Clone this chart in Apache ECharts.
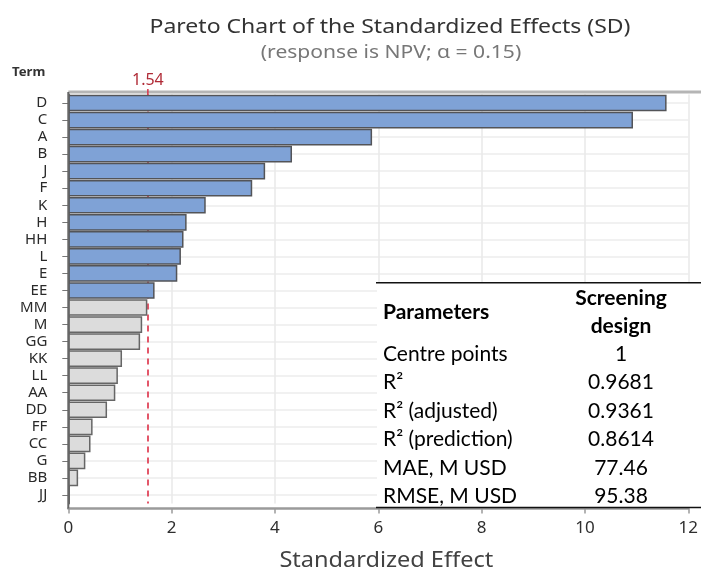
<!DOCTYPE html>
<html><head><meta charset="utf-8">
<script src="https://cdn.jsdelivr.net/npm/echarts@6/dist/echarts.min.js"></script>
<style>html,body{margin:0;padding:0;background:#fff}#chart{width:701px;height:572px}</style>
</head><body><div id="chart"></div>
<script>
// Terms ordered by absolute standardized effect
const terms = ['D','C','A','B','J','F','K','H','HH','L','E','EE','MM','M','GG','KK','LL','AA','DD','FF','CC','G','BB','JJ'];
const effects = [11.58,10.93,5.88,4.33,3.81,3.56,2.66,2.29,2.23,2.18,2.11,1.67,1.53,1.43,1.39,1.04,0.96,0.91,0.75,0.47,0.43,0.33,0.19,0.03];
const criticalValue = 1.54;
const xMax = 12;
const xStep = 2;

// Model summary table
const tableHeader = ['Parameters', 'Screening', 'design'];
const tableParams = ['Centre points','R²','R² (adjusted)','R² (prediction)','MAE, M USD','RMSE, M USD'];
const tableValues = ['1','0.9681','0.9361','0.8614','77.46','95.38'];

const FONT = '"Noto Sans", "DejaVu Sans", sans-serif';
const TFONT = 'Lato, "Noto Sans", sans-serif';

const chart = echarts.init(document.getElementById('chart'), null, {renderer: 'canvas'});

const barData = effects.map(v => ({
  value: v,
  itemStyle: v > criticalValue
    ? {color: '#7fa2d6', borderColor: '#535458', borderWidth: 1.5}
    : {color: '#dcdcdc', borderColor: '#666', borderWidth: 1.5}
}));

chart.setOption({
  animation: false,
  backgroundColor: '#fff',
  grid: {left: 68.3, right: 6.3, top: 94.5, height: 409, containLabel: false},
  xAxis: {
    type: 'value', min: 0, max: xMax, interval: xStep,
    offset: 5,
    axisLine: {show: true, lineStyle: {color: '#9a9a9a', width: 2.5}},
    axisTick: {show: true, length: 5, lineStyle: {color: '#9a9a9a', width: 1.5}},
    axisLabel: {color: '#2e2e2e', fontSize: 17, fontFamily: FONT, margin: 11},
    splitLine: {show: true, lineStyle: {color: '#e8e8e8', width: 1.5}}
  },
  yAxis: {
    type: 'category', data: terms, inverse: true,
    axisLine: {show: true, lineStyle: {color: '#666', width: 2}},
    axisTick: {show: true, alignWithLabel: true, interval: 0, length: 6, lineStyle: {color: '#777', width: 1}},
    axisLabel: {color: '#2a2a2a', fontSize: 15, fontFamily: FONT, margin: 21, interval: 0},
    splitLine: {show: true, alignWithLabel: true, interval: 0, lineStyle: {color: '#ececec', width: 1.5}}
  },
  series: [{
    type: 'bar', data: barData, barCategoryGap: '2%', z: 3,
    markLine: {
      z: 1, silent: true, symbol: ['none','none'],
      lineStyle: {color: '#e0455a', type: [6, 5], width: 1.8},
      label: {show: true, position: 'start', formatter: String(criticalValue),
              color: '#b02a36', fontSize: 16, fontFamily: FONT, distance: 6},
      data: [{xAxis: criticalValue}]
    }
  }]
});

function drawOverlay() {
  const gx = v => chart.convertToPixel({xAxisIndex: 0}, v);
  const x0 = gx(0), xc = gx(criticalValue), xEnd = gx(xMax);
  const plotTop = 92, plotBottom = 508.5;
  const tL = 377, tR = 701, tTop = 282.7, tBot = 507.6;
  const colX = 621, rowY0 = 354, rowStep = 28.5;
  const g = [
    // frame
    {type: 'line', shape: {x1: x0, y1: plotTop, x2: 701, y2: plotTop}, style: {stroke: '#b5b5b5', lineWidth: 3}, z: 50},
    {type: 'line', shape: {x1: x0, y1: plotTop, x2: x0, y2: plotBottom}, style: {stroke: '#666', lineWidth: 2}, z: 50},
    {type: 'line', shape: {x1: xc, y1: plotTop - 3, x2: xc, y2: plotTop + 3}, style: {stroke: '#d8344a', lineWidth: 1.5}, z: 51},
    // titles
    {type: 'text', x: 390, y: 27, scaleX: 1.15, z: 60, style: {text: 'Pareto Chart of the Standardized Effects (SD)', fill: '#333', font: '20px ' + FONT, align: 'center', verticalAlign: 'middle'}},
    {type: 'text', x: 391, y: 53, scaleX: 1.17, z: 60, style: {text: '(response is NPV; α = 0.15)', fill: '#777', font: '18px ' + FONT, align: 'center', verticalAlign: 'middle'}},
    {type: 'text', x: 12, y: 73, scaleX: 1.1, z: 60, style: {text: 'Term', fill: '#333', font: 'bold 12px ' + FONT, align: 'left', verticalAlign: 'middle'}},
    {type: 'text', x: (x0 + xEnd) / 2 + 8, y: 561, scaleX: 1.12, z: 60, style: {text: 'Standardized Effect', fill: '#424242', font: '21px ' + FONT, align: 'center', verticalAlign: 'middle'}},
    // table
    {type: 'rect', shape: {x: tL, y: tTop, width: tR - tL, height: tBot - tTop}, style: {fill: '#fff'}, z: 70},
    {type: 'line', shape: {x1: tL - 1, y1: tTop, x2: tR, y2: tTop}, style: {stroke: '#111', lineWidth: 1.5}, z: 71},
    {type: 'line', shape: {x1: tL - 1, y1: tBot, x2: tR, y2: tBot}, style: {stroke: '#111', lineWidth: 1.5}, z: 71},
    {type: 'text', x: 383, y: 312.7, z: 72, style: {text: tableHeader[0], fill: '#000', font: 'bold 21px ' + TFONT, align: 'left', verticalAlign: 'middle'}},
    {type: 'text', x: colX, y: 298, z: 72, style: {text: tableHeader[1], fill: '#000', font: 'bold 21px ' + TFONT, align: 'center', verticalAlign: 'middle'}},
    {type: 'text', x: colX, y: 326.7, z: 72, style: {text: tableHeader[2], fill: '#000', font: 'bold 21px ' + TFONT, align: 'center', verticalAlign: 'middle'}}
  ];
  tableParams.forEach((p, i) => {
    const y = rowY0 + i * rowStep;
    g.push({type: 'text', x: 383, y, z: 72, style: {text: p, fill: '#000', font: '21px ' + TFONT, align: 'left', verticalAlign: 'middle'}});
    g.push({type: 'text', x: colX, y, z: 72, style: {text: tableValues[i], fill: '#000', font: '21px ' + TFONT, align: 'center', verticalAlign: 'middle'}});
  });
  chart.setOption({graphic: g});
}
drawOverlay();
</script>
</body></html>
